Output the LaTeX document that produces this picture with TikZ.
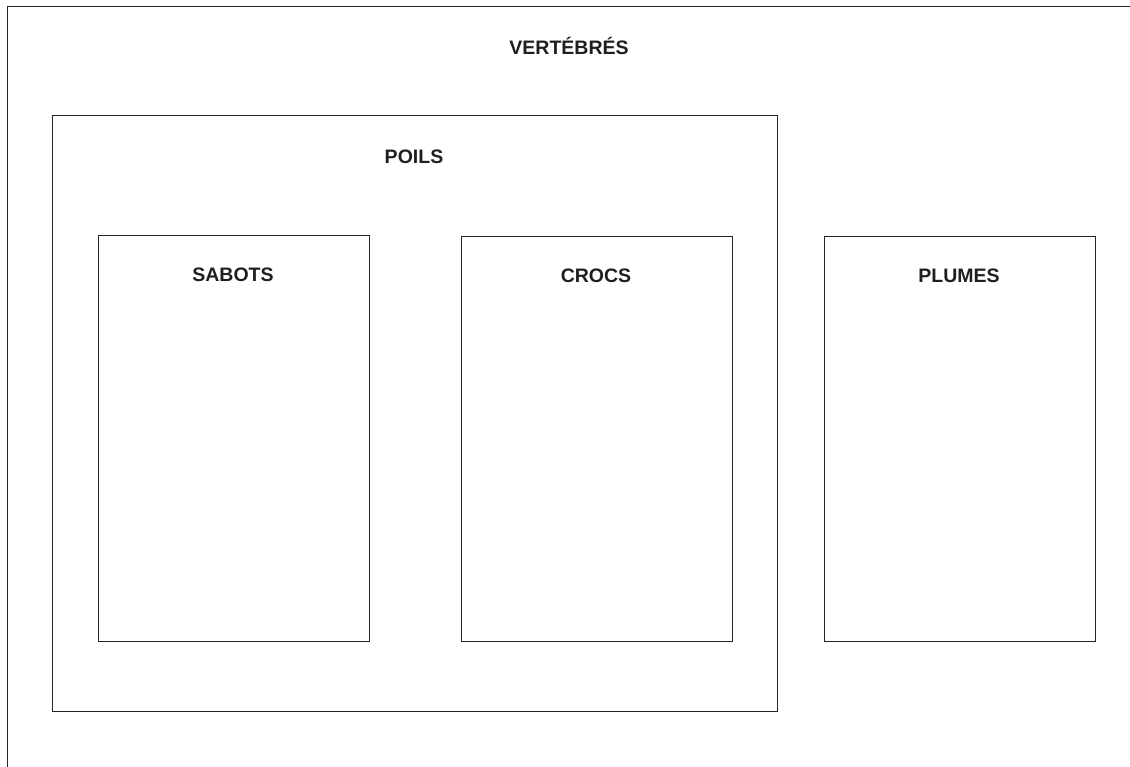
\documentclass[tikz,border=0pt]{standalone}
\usepackage{fontspec}
\setmainfont{Liberation Sans}
\begin{document}
\begin{tikzpicture}[x=1pt,y=-1pt,
  frame/.style={draw=black!85,line width=1.2pt,rectangle,inner sep=0pt,anchor=north west},
  lab/.style={font=\fontsize{19.5}{22}\selectfont\bfseries,text=black!88}]
\useasboundingbox (0,0) rectangle (1130,767);
\clip (0,0) rectangle (1130,767);
\node[frame,minimum width=1160pt,minimum height=800pt] (vert) at (7,6) {};
\node[frame,minimum width=725pt,minimum height=596pt] (poils) at (52,115) {};
\node[frame,minimum width=271pt,minimum height=406pt] (sabots) at (98,235) {};
\node[frame,minimum width=271pt,minimum height=405pt] (crocs) at (461,236) {};
\node[frame,minimum width=271pt,minimum height=405pt] (plumes) at (824,236) {};
\node[lab] (tv) at (569,46) {VERTÉBRÉS};
\node[lab] (tp) at (414,157) {POILS};
\node[lab] (ts) at (233,275) {SABOTS};
\node[lab] (tc) at (596,276) {CROCS};
\node[lab] (tpl) at (959,276) {PLUMES};
\end{tikzpicture}
\end{document}
